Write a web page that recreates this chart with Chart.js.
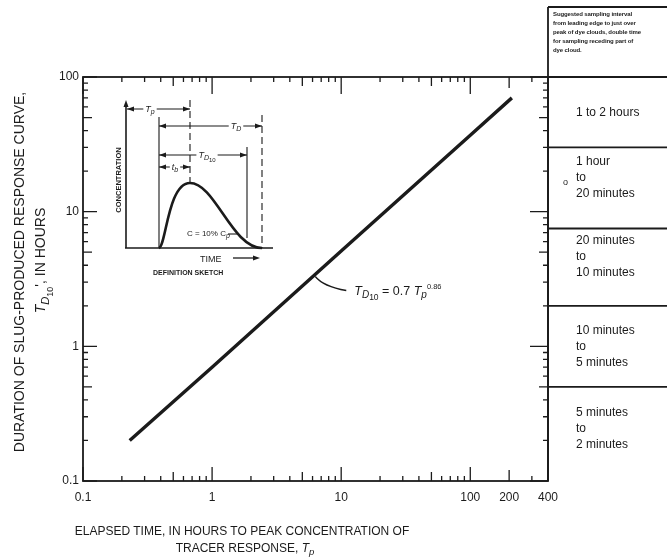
<!DOCTYPE html>
<html>
<head>
<meta charset="utf-8">
<title>Duration of slug-produced response curve</title>
<script src="https://cdn.jsdelivr.net/npm/chart.js"></script>
<style>
  body { margin: 0; background: #fff; }
  #wrap { position: relative; width: 667px; height: 559px; font-family: "Liberation Sans", Arial, sans-serif; color: #1b1b1b; }
  #chart { position: absolute; left: 0; top: 0; }
  .t { position: absolute; white-space: nowrap; }
  .ytitle { width: 440px; text-align: center; font-size: 14px; transform: rotate(-90deg); transform-origin: 50% 50%; }
  .xtitle { width: 420px; text-align: center; font-size: 12px; }
  .row { font-size: 12px; line-height: 16px; }
  .note { font-size: 6px; font-weight: bold; line-height: 9px; letter-spacing: -0.1px; }
  sub { font-size: 80%; vertical-align: -0.35em; line-height: 0; }
</style>
</head>
<body>
<div id="wrap">
  <canvas id="chart" width="667" height="559"></canvas>
  <div class="t ytitle" style="left:-201px; top:264px;">DURATION OF SLUG-PRODUCED RESPONSE CURVE,</div>
  <div class="t ytitle" style="left:-179px; top:252px;"><i>T</i><sub><i>D</i><sub>10</sub></sub>', IN HOURS</div>
  <div class="t xtitle" style="left:32px; top:524px;">ELAPSED TIME, IN HOURS TO PEAK CONCENTRATION OF</div>
  <div class="t xtitle" style="left:35px; top:541px;">TRACER RESPONSE, <i>T<sub>p</sub></i></div>
</div>
<script>
// values (hours)
const tpHours = [0.23, 1, 10, 100, 210];
const td10Hours = [0.2, 0.7, 5.1, 37, 70];

const xTicks = [0.1, 1, 10, 100, 200, 400];
const yTicks = [0.1, 1, 10, 100];

// right-hand table: band limits on the T_D10 axis and their sampling intervals
const rowBounds = [100, 30, 7.5, 2, 0.5, 0.1];
const rowLabels = [
  ['1 to 2 hours'],
  ['1 hour', 'to', '20 minutes'],
  ['20 minutes', 'to', '10 minutes'],
  ['10 minutes', 'to', '5 minutes'],
  ['5 minutes', 'to', '2 minutes']
];
const headerNote = [
  'Suggested sampling interval',
  'from leading edge to just over',
  'peak of dye clouds, double time',
  'for sampling receding part of',
  'dye cloud.'
];

const ink = '#1b1b1b';
const FONT = '"Liberation Sans", Arial, sans-serif';

function logSteps(min, max) {
  const out = [];
  for (let e = Math.floor(Math.log10(min)); e <= Math.ceil(Math.log10(max)); e++) {
    for (let m = 1; m <= 9; m++) {
      const v = m * Math.pow(10, e);
      if (v >= min * 0.999 && v <= max * 1.001) out.push({ v: v, m: m });
    }
  }
  return out;
}

function tickLen(step, labelled) {
  if (step.m === 1) return 14;
  if (labelled.some(l => Math.abs(l - step.v) < step.v * 0.01)) return 11;
  if (step.m === 5) return 9;
  return 5;
}

// text with italic / sub / sup pieces
function rich(ctx, x, y, parts) {
  parts.forEach(p => {
    ctx.font = (p.i ? 'italic ' : '') + p.s + 'px ' + FONT;
    ctx.fillText(p.t, x, y + (p.dy || 0));
    x += ctx.measureText(p.t).width;
  });
}

function arrowHead(ctx, x, y, dir) {
  // dir: 1 right, -1 left, 'up'
  ctx.beginPath();
  if (dir === 'up') {
    ctx.moveTo(x, y); ctx.lineTo(x - 2.5, y + 7); ctx.lineTo(x + 2.5, y + 7);
  } else {
    ctx.moveTo(x, y); ctx.lineTo(x - dir * 7, y - 2.5); ctx.lineTo(x - dir * 7, y + 2.5);
  }
  ctx.closePath();
  ctx.fill();
}

// double arrow with a gap for the label
function dimension(ctx, x1, x2, y, labelX, parts) {
  let w = 0;
  parts.forEach(p => { ctx.font = (p.i ? 'italic ' : '') + p.s + 'px ' + FONT; w += ctx.measureText(p.t).width; });
  ctx.lineWidth = 1.2;
  ctx.beginPath();
  ctx.moveTo(x1, y); ctx.lineTo(labelX - w / 2 - 2, y);
  ctx.moveTo(labelX + w / 2 + 2, y); ctx.lineTo(x2, y);
  ctx.stroke();
  arrowHead(ctx, x1, y, -1);
  arrowHead(ctx, x2, y, 1);
  rich(ctx, labelX - w / 2, y + 3, parts);
}

function drawSketch(ctx) {
  ctx.save();
  ctx.strokeStyle = ink;
  ctx.fillStyle = ink;
  ctx.lineCap = 'butt';

  // axes
  ctx.lineWidth = 1.6;
  ctx.beginPath();
  ctx.moveTo(126, 248); ctx.lineTo(126, 106);
  ctx.moveTo(125, 248); ctx.lineTo(273, 248);
  ctx.stroke();
  arrowHead(ctx, 126, 100, 'up');

  // response curve
  ctx.lineWidth = 2.6;
  ctx.beginPath();
  ctx.moveTo(159, 248);
  ctx.bezierCurveTo(166, 246, 168, 183, 190, 183);
  ctx.bezierCurveTo(215, 183, 232, 248, 262, 248);
  ctx.stroke();

  // reference verticals
  ctx.lineWidth = 1.1;
  ctx.beginPath();
  ctx.moveTo(159, 117); ctx.lineTo(159, 248);
  ctx.moveTo(247, 147); ctx.lineTo(247, 238);
  ctx.stroke();
  ctx.setLineDash([7, 4]);
  ctx.beginPath();
  ctx.moveTo(190, 100); ctx.lineTo(190, 183);
  ctx.moveTo(262, 115); ctx.lineTo(262, 248);
  ctx.stroke();
  ctx.setLineDash([]);

  dimension(ctx, 127, 190, 109, 150, [{ t: 'T', i: 1, s: 9 }, { t: 'p', i: 1, s: 7, dy: 2 }]);
  dimension(ctx, 159, 262, 126, 236, [{ t: 'T', i: 1, s: 9 }, { t: 'D', i: 1, s: 7, dy: 2 }]);
  dimension(ctx, 159, 247, 155, 207, [{ t: 'T', i: 1, s: 9 }, { t: 'D', i: 1, s: 7, dy: 2 }, { t: '10', s: 6, dy: 4 }]);
  dimension(ctx, 159, 190, 167, 175, [{ t: 't', i: 1, s: 9 }, { t: 'b', i: 1, s: 7, dy: 2 }]);

  // C = 10% Cp
  rich(ctx, 187, 236, [{ t: 'C = 10% C', s: 8 }, { t: 'p', i: 1, s: 7, dy: 2 }]);
  ctx.lineWidth = 1.1;
  ctx.beginPath(); ctx.moveTo(228, 234); ctx.lineTo(239, 234); ctx.stroke();

  // TIME arrow
  ctx.font = '9px ' + FONT;
  ctx.fillText('TIME', 200, 262);
  ctx.lineWidth = 1.3;
  ctx.beginPath(); ctx.moveTo(233, 258); ctx.lineTo(254, 258); ctx.stroke();
  arrowHead(ctx, 260, 258, 1);

  ctx.font = 'bold 7px ' + FONT;
  ctx.fillText('DEFINITION SKETCH', 153, 275);

  ctx.save();
  ctx.translate(121, 180);
  ctx.rotate(-Math.PI / 2);
  ctx.font = 'bold 7.5px ' + FONT;
  ctx.textAlign = 'center';
  ctx.fillText('CONCENTRATION', 0, 0);
  ctx.restore();

  ctx.restore();
}

const framePlugin = {
  id: 'frame',
  afterDraw(chart) {
    const ctx = chart.ctx;
    const a = chart.chartArea;
    const xs = chart.scales.x, ys = chart.scales.y;
    ctx.save();
    ctx.strokeStyle = ink;
    ctx.fillStyle = ink;

    // inward ticks on all four sides
    ctx.lineWidth = 1.3;
    ctx.beginPath();
    logSteps(xs.min, xs.max).forEach(s => {
      const px = xs.getPixelForValue(s.v);
      const len = tickLen(s, xTicks);
      ctx.moveTo(px, a.bottom); ctx.lineTo(px, a.bottom - len);
      ctx.moveTo(px, a.top); ctx.lineTo(px, a.top + (s.m === 1 ? len + 3 : len));
    });
    logSteps(ys.min, ys.max).forEach(s => {
      const py = ys.getPixelForValue(s.v);
      const len = tickLen(s, yTicks);
      ctx.moveTo(a.left, py); ctx.lineTo(a.left + len, py);
      ctx.moveTo(a.right, py); ctx.lineTo(a.right - (s.m === 1 ? len + 4 : len), py);
    });
    ctx.stroke();

    // frame
    ctx.lineWidth = 1.8;
    ctx.strokeRect(a.left, a.top, a.right - a.left, a.bottom - a.top);

    // table on the right
    ctx.beginPath();
    ctx.moveTo(a.right, a.bottom); ctx.lineTo(a.right, 7);
    ctx.moveTo(a.right, 7); ctx.lineTo(667, 7);
    rowBounds.forEach((b, i) => {
      if (i === rowBounds.length - 1) return;
      const py = ys.getPixelForValue(b);
      ctx.moveTo(a.right, py); ctx.lineTo(667, py);
    });
    ctx.stroke();

    // leader + equation label
    const p = { x: xs.getPixelForValue(6.3), y: ys.getPixelForValue(3.3) };
    ctx.lineWidth = 1.3;
    ctx.beginPath();
    ctx.moveTo(p.x, p.y);
    ctx.quadraticCurveTo(p.x + 8, p.y + 10, p.x + 31, p.y + 14);
    ctx.stroke();
    rich(ctx, p.x + 39, p.y + 18, [
      { t: 'T', i: 1, s: 12.5 }, { t: 'D', i: 1, s: 10, dy: 3 }, { t: '10', s: 8.5, dy: 5 },
      { t: ' = 0.7 ', s: 12.5 },
      { t: 'T', i: 1, s: 12.5 }, { t: 'p', i: 1, s: 10, dy: 3 }, { t: '0.86', s: 7.5, dy: -6 }
    ]);

    drawSketch(ctx);
    ctx.restore();
  }
};

const chart = new Chart(document.getElementById('chart'), {
  type: 'line',
  data: {
    datasets: [{
      label: 'TD10 = 0.7 Tp^0.86',
      data: tpHours.map((x, i) => ({ x: x, y: td10Hours[i] })),
      borderColor: ink,
      borderWidth: 3.4,
      pointRadius: 0,
      tension: 0,
      fill: false
    }]
  },
  options: {
    responsive: false,
    animation: false,
    layout: { padding: { left: 0, top: 77, right: 119, bottom: 0 } },
    plugins: { legend: { display: false }, tooltip: { enabled: false } },
    scales: {
      x: {
        type: 'logarithmic',
        min: 0.1,
        max: 400,
        afterBuildTicks: s => { s.ticks = xTicks.map(v => ({ value: v })); },
        afterFit: s => { s.height = 78; },
        grid: { display: false, drawTicks: false },
        border: { display: false },
        ticks: {
          autoSkip: false,
          maxRotation: 0,
          padding: 9,
          color: ink,
          font: { family: FONT, size: 12 },
          callback: v => String(v)
        }
      },
      y: {
        type: 'logarithmic',
        min: 0.1,
        max: 100,
        afterBuildTicks: s => { s.ticks = yTicks.map(v => ({ value: v })); },
        afterFit: s => { s.width = 83; },
        grid: { display: false, drawTicks: false },
        border: { display: false },
        ticks: {
          autoSkip: false,
          padding: 4,
          color: ink,
          font: { family: FONT, size: 12 },
          callback: v => String(v)
        }
      }
    }
  },
  plugins: [framePlugin]
});

// table text, placed from the y scale
(function () {
  const wrap = document.getElementById('wrap');
  const ys = chart.scales.y;
  const right = chart.chartArea.right;
  const topPad = [0, 6, 4, 16, 17];

  const note = document.createElement('div');
  note.className = 't note';
  note.style.left = (right + 5) + 'px';
  note.style.top = '10px';
  note.innerHTML = headerNote.join('<br>');
  wrap.appendChild(note);

  rowLabels.forEach((lines, i) => {
    const y0 = ys.getPixelForValue(rowBounds[i]);
    const y1 = ys.getPixelForValue(rowBounds[i + 1]);
    const div = document.createElement('div');
    div.className = 't row';
    div.style.left = (right + 28) + 'px';
    if (lines.length === 1) {
      div.style.top = ((y0 + y1) / 2 - 8) + 'px';
    } else {
      div.style.top = (y0 + topPad[i]) + 'px';
    }
    div.innerHTML = lines.join('<br>');
    wrap.appendChild(div);
  });

  // small stray mark beside "to" in the second band
  const mark = document.createElement('div');
  mark.className = 't';
  mark.style.cssText = 'font-size:9px; left:' + (right + 15) + 'px; top:' + (ys.getPixelForValue(rowBounds[1]) + 30) + 'px;';
  mark.textContent = 'o';
  wrap.appendChild(mark);
})();
</script>
</body>
</html>
